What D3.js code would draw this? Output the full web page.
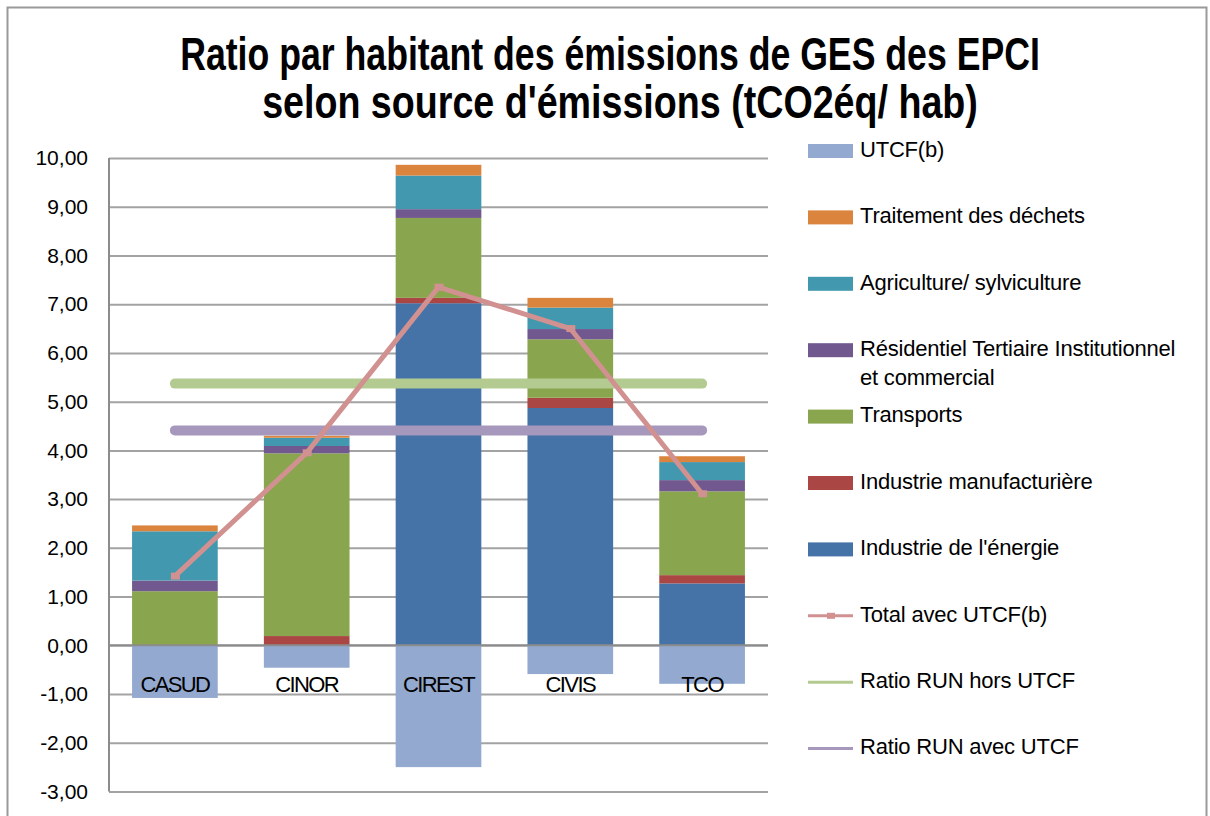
<!DOCTYPE html>
<html>
<head>
<meta charset="utf-8">
<script src="https://cdn.jsdelivr.net/npm/d3@7"></script>
<style>
  body { margin: 0; background: #fff; }
  svg { display: block; font-family: "Liberation Sans", Arial, sans-serif; }
  .y-axis text { font-size: 21px; fill: #000; }
  .y-axis .tick line { stroke: #a3a3a3; stroke-width: 2; }
</style>
</head>
<body>
<div id="chart"></div>
<script>
let width = 1210,
    height = 816,
    margin = ({ top: 158, right: 442, bottom: 24.5, left: 109 });

// values (tCO2eq / hab)
const categories = ["CASUD", "CINOR", "CIREST", "CIVIS", "TCO"];
const energie = [0, 0, 7.02, 4.87, 1.27];
const manufacturiere = [0, 0.19, 0.11, 0.21, 0.17];
const transports = [1.11, 3.75, 1.64, 1.20, 1.72];
const residentiel = [0.22, 0.15, 0.18, 0.21, 0.23];
const agriculture = [1.01, 0.17, 0.69, 0.44, 0.37];
const dechets = [0.12, 0.04, 0.22, 0.20, 0.12];
const utcf = [-1.08, -0.46, -2.50, -0.59, -0.79];
const totalAvecUtcf = [1.42, 3.95, 7.35, 6.50, 3.11];
const ratioHorsUtcf = 5.37;
const ratioAvecUtcf = 4.41;
const yTicks = [-3, -2, -1, 0, 1, 2, 3, 4, 5, 6, 7, 8, 9, 10];

const series = [
  { key: "energie", label: "Industrie de l'énergie", color: "#4572a7", values: energie },
  { key: "manuf", label: "Industrie manufacturière", color: "#aa4643", values: manufacturiere },
  { key: "transports", label: "Transports", color: "#89a54e", values: transports },
  { key: "residentiel", label: "Résidentiel Tertiaire Institutionnel|et commercial", color: "#71588f", values: residentiel },
  { key: "agri", label: "Agriculture/ sylviculture", color: "#4198af", values: agriculture },
  { key: "dechets", label: "Traitement des déchets", color: "#db843d", values: dechets },
  { key: "utcf", label: "UTCF(b)", color: "#93a9cf", values: utcf }
];

const table = categories.map((c, i) => {
  let row = { cat: c };
  for (let s of series) row[s.key] = s.values[i];
  return row;
});

const svg = d3.select("#chart")
  .append("svg")
  .attr("width", width)
  .attr("height", height)
  .attr("viewBox", [0, 0, width, height]);

// outer frame
svg.append("rect")
  .attr("x", 7.5).attr("y", 7.5)
  .attr("width", 1199).attr("height", 830)
  .attr("fill", "none")
  .attr("stroke", "#9a9a9a")
  .attr("stroke-width", 2);

// title: bold, squeezed horizontally like the original narrow font
const titleLines = [
  { text: "Ratio par habitant des émissions de GES des EPCI", y: 70, len: 860, cx: 610 },
  { text: "selon source d'émissions (tCO2éq/ hab)", y: 118, len: 716, cx: 620 }
];
svg.selectAll(".title")
  .data(titleLines)
  .join("text")
  .attr("class", "title")
  .attr("text-anchor", "middle")
  .attr("font-size", 46)
  .attr("font-weight", "bold")
  .text(d => d.text)
  .attr("transform", function (d) {
    let k = Math.min(1, d.len / this.getComputedTextLength());
    return `translate(${d.cx},${d.y}) scale(${k},1)`;
  });

let x = d3.scaleBand()
  .domain(categories)
  .range([margin.left, width - margin.right])
  .paddingInner(0.35)
  .paddingOuter(0.175);

let y = d3.scaleLinear()
  .domain([-3, 10])
  .range([height - margin.bottom, margin.top]);

// y axis + gridlines
svg.append("g")
  .attr("class", "y-axis")
  .attr("transform", `translate(${margin.left},0)`)
  .call(d3.axisLeft(y)
    .tickValues(yTicks)
    .tickSize(-(width - margin.right - margin.left))
    .tickPadding(21)
    .tickFormat(d => d.toFixed(2).replace(".", ","))
  )
  .call(g => g.select(".domain").remove());

svg.append("line")
  .attr("x1", margin.left).attr("x2", margin.left)
  .attr("y1", y(10)).attr("y2", y(-3))
  .attr("stroke", "#8c8c8c").attr("stroke-width", 2);

// stacked bars
let stack = d3.stack()
  .keys(series.map(s => s.key))
  .offset(d3.stackOffsetDiverging);

let stacked = stack(table);

svg.append("g")
  .selectAll("g")
  .data(stacked)
  .join("g")
  .attr("fill", (d, i) => series[i].color)
  .selectAll("rect")
  .data(d => d)
  .join("rect")
  .attr("x", d => x(d.data.cat))
  .attr("y", d => y(d[1]))
  .attr("width", x.bandwidth())
  .attr("height", d => y(d[0]) - y(d[1]));

// zero line
svg.append("line")
  .attr("x1", margin.left).attr("x2", width - margin.right)
  .attr("y1", y(0)).attr("y2", y(0))
  .attr("stroke", "#8c8c8c").attr("stroke-width", 2);

// category labels
svg.append("g")
  .selectAll("text")
  .data(categories)
  .join("text")
  .attr("x", d => x(d) + x.bandwidth() / 2)
  .attr("y", y(0) + 47)
  .attr("text-anchor", "middle")
  .attr("font-size", 22)
  .attr("letter-spacing", -1.6)
  .text(d => d);

// RUN ratio lines
const first = categories[0], last = categories[categories.length - 1];
const ratios = [
  { v: ratioHorsUtcf, color: "#b3cb91" },
  { v: ratioAvecUtcf, color: "#a697bc" }
];
svg.append("g")
  .selectAll("line")
  .data(ratios)
  .join("line")
  .attr("x1", x(first) + x.bandwidth() / 2)
  .attr("x2", x(last) + x.bandwidth() / 2)
  .attr("y1", d => y(d.v))
  .attr("y2", d => y(d.v))
  .attr("stroke", d => d.color)
  .attr("stroke-width", 10)
  .attr("stroke-linecap", "round");

// total avec UTCF
let line = d3.line()
  .x((d, i) => x(categories[i]) + x.bandwidth() / 2)
  .y(d => y(d));

svg.append("path")
  .datum(totalAvecUtcf)
  .attr("fill", "none")
  .attr("stroke", "#d09190")
  .attr("stroke-width", 5)
  .attr("stroke-linejoin", "round")
  .attr("d", line);

svg.append("g")
  .selectAll("rect")
  .data(totalAvecUtcf)
  .join("rect")
  .attr("x", (d, i) => x(categories[i]) + x.bandwidth() / 2 - 4)
  .attr("y", d => y(d) - 3.5)
  .attr("width", 9)
  .attr("height", 7)
  .attr("fill", "#d09190");

// legend
const legendItems = [
  ...series.slice().reverse().map(s => ({ label: s.label, color: s.color, type: "rect" })),
  { label: "Total avec UTCF(b)", color: "#d09190", type: "marker" },
  { label: "Ratio RUN hors UTCF", color: "#b3cb91", type: "line" },
  { label: "Ratio RUN avec UTCF", color: "#a697bc", type: "line" }
];

let legend = svg.append("g")
  .attr("transform", "translate(808,151)");

let item = legend.selectAll("g")
  .data(legendItems)
  .join("g")
  .attr("transform", (d, i) => `translate(0,${i * 66.4})`);

item.filter(d => d.type === "rect")
  .append("rect")
  .attr("y", -7)
  .attr("width", 45)
  .attr("height", 14)
  .attr("fill", d => d.color);

item.filter(d => d.type !== "rect")
  .append("line")
  .attr("x1", 0).attr("x2", 45)
  .attr("stroke", d => d.color)
  .attr("stroke-width", 3);

item.filter(d => d.type === "marker")
  .append("rect")
  .attr("x", 19).attr("y", -3)
  .attr("width", 8).attr("height", 6)
  .attr("fill", d => d.color);

item.append("text")
  .attr("x", 52)
  .attr("font-size", 22)
  .attr("letter-spacing", -0.2)
  .selectAll("tspan")
  .data(d => d.label.split("|"))
  .join("tspan")
  .attr("x", 52)
  .attr("y", (d, i) => i * 29)
  .attr("dominant-baseline", "middle")
  .text(d => d);
</script>
</body>
</html>
